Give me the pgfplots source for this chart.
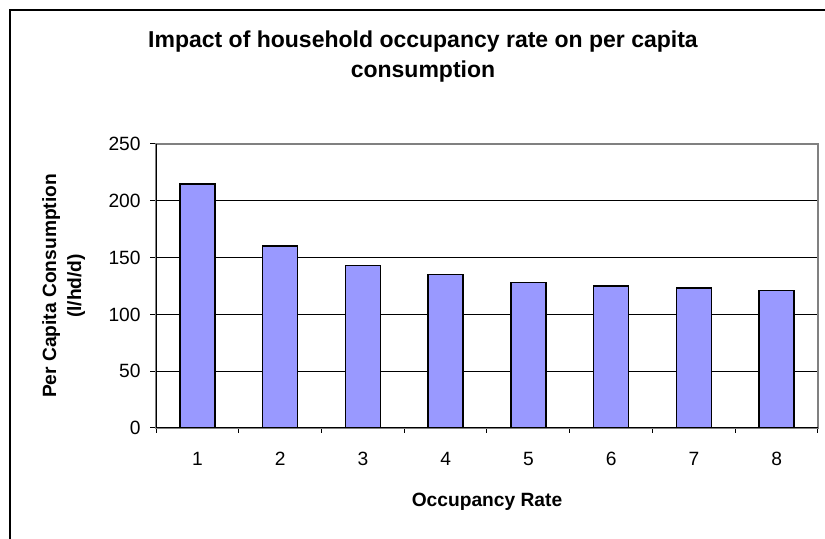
\documentclass[border=0pt]{standalone}
\usepackage{fontspec}
\setmainfont{Liberation Sans}
\usepackage{pgfplots}
\pgfplotsset{compat=1.18}
\definecolor{barfill}{RGB}{153,153,255}
\definecolor{boxgray}{RGB}{128,128,128}

% 1 px of the reference = 0.5pt
\begin{document}
\begin{tikzpicture}
  % chart frame (runs past the right and bottom edge)
  \draw[line width=1.25pt] (5pt,-20pt) -- (5pt,264.5pt) -- (440pt,264.5pt);

  \begin{axis}[
      at={(78pt,55.5pt)}, anchor=south west,
      scale only axis, width=331pt, height=142pt,
      ybar, bar width=17.5pt,
      xmin=0.5, xmax=8.5, ymin=0, ymax=250,
      xtick={1,...,8},
      minor xtick={0.5,1.5,...,8.5},
      ytick={0,50,...,250},
      xtick pos=bottom, ytick pos=left,
      ymajorgrids,
      grid style={black, line width=0.5pt},
      tick align=outside,
      tick style={black, line width=0.5pt},
      major tick length=3pt,
      minor tick length=2.5pt,
      major x tick style={draw=none},
      axis line style={draw=boxgray, line width=0.75pt},
      ticklabel style={font=\fontsize{9.6}{11.5}\selectfont, inner sep=0pt},
      yticklabel style={xshift=-4.5pt},
      xticklabel style={yshift=-9pt},
      /pgf/number format/assume math mode=true,
    ]
    \addplot[fill=barfill, draw=black, line width=0.8pt] coordinates {
      (1,215) (2,160) (3,143) (4,135) (5,128) (6,125) (7,123) (8,121)
    };
    \draw[black, line width=0.75pt] (rel axis cs:0,1) -- (rel axis cs:0,0) -- (rel axis cs:1,0);
  \end{axis}

  \node[anchor=base, font=\fontsize{11.5}{14}\selectfont\bfseries] at (211.5pt,245.5pt)
    {Impact of household occupancy rate on per capita};
  \node[anchor=base, font=\fontsize{11.5}{14}\selectfont\bfseries] at (211.5pt,230.5pt)
    {consumption};
  \node[anchor=base, rotate=90, font=\fontsize{9.6}{11.5}\selectfont\bfseries] at (28pt,126.5pt)
    {Per Capita Consumption};
  \node[anchor=base, rotate=90, font=\fontsize{9.6}{11.5}\selectfont\bfseries] at (40.5pt,126.5pt)
    {(l/hd/d)};
  \node[anchor=base, font=\fontsize{9.6}{11.5}\selectfont\bfseries] at (243.5pt,16pt)
    {Occupancy Rate};

  \pgfresetboundingbox
  \useasboundingbox (0pt,0pt) rectangle (412.5pt,269.5pt);
\end{tikzpicture}
\end{document}
